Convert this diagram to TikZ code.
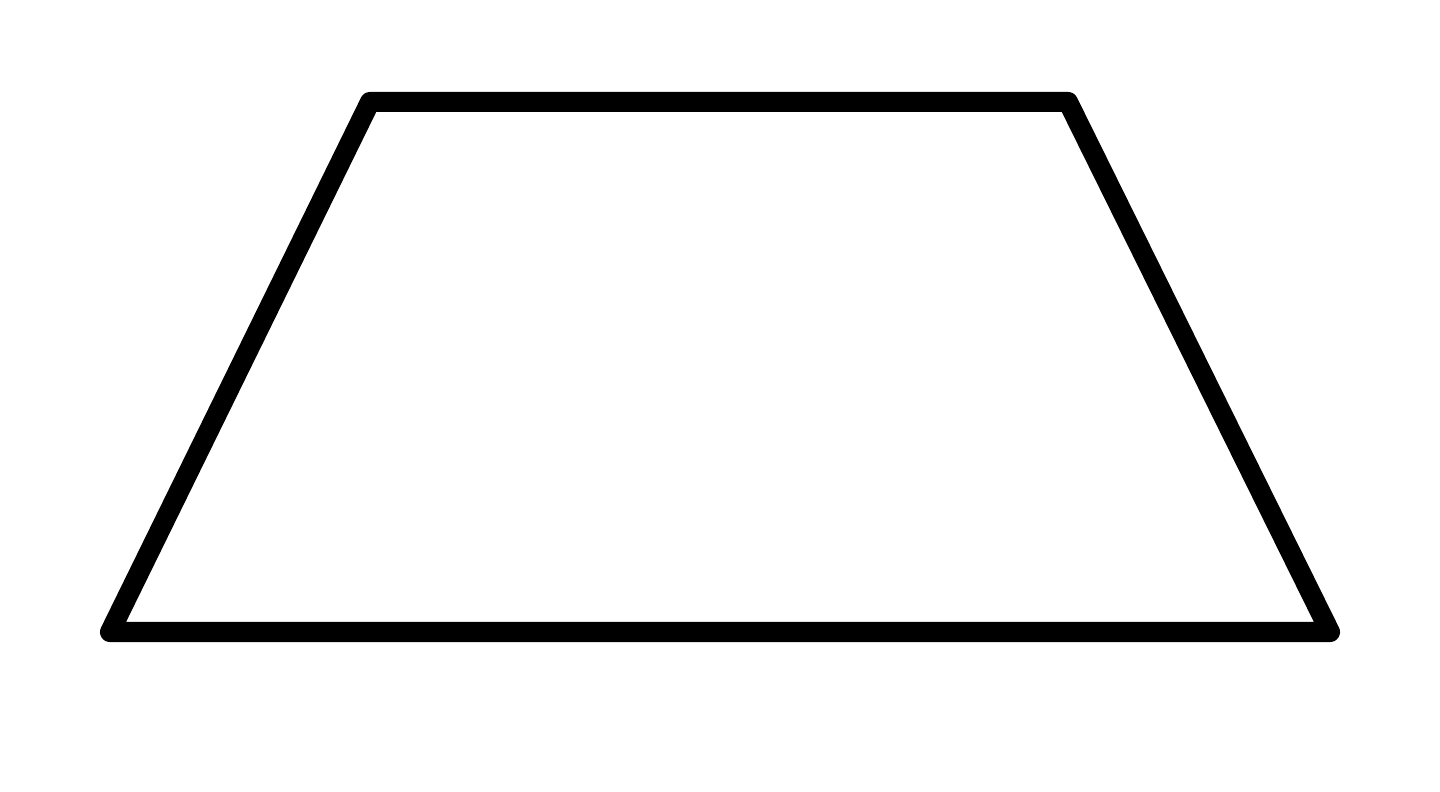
\documentclass[tikz,border=0pt]{standalone}
\begin{document}
\begin{tikzpicture}[x=0.01cm,y=-0.01cm]
\tikzset{bord/.style = {draw,
                        line width = 0.2cm,
                        line join  = round}}
\useasboundingbox (0,0) rectangle (1440,792);
\coordinate (A0) at  (110,632);
\coordinate (A1) at  (1330,632);
\coordinate (A2) at  (1068,102);
\coordinate (A3) at  (370,102);
\draw[bord] (A0) -- (A1) -- (A2) -- (A3) -- cycle;
\end{tikzpicture}
\end{document}
